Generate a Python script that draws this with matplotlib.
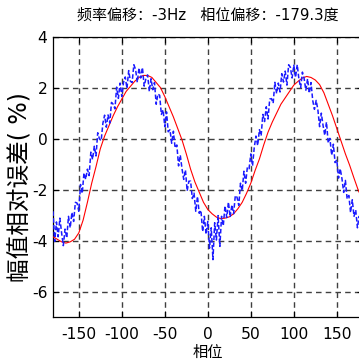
import matplotlib
matplotlib.use("Agg")
import matplotlib.pyplot as plt

plt.rcParams['font.family'] = ['DejaVu Sans', 'Noto Sans CJK SC']
plt.rcParams['axes.unicode_minus'] = False

# Phase axis (degrees) for the measured series, 2-degree steps
phase_meas = list(range(-180, 181, 2))
# Measured amplitude relative error (%)
err_meas = [
    -2.85, -4.03, -3.27, -3.85, -3.12, -3.7, -4.2, -3.55, -3.9, -3.05,
    -3.5, -2.9, -3.25, -2.5, -2.53, -2.85, -1.8, -2.15, -1.35, -1.6,
    -1.2, -1.45, -0.53, -0.82, -0.3, -0.68, 0.23, -0.01, -0.08, 0.6,
    0.92, 0.45, 0.93, 0.61, 1.42, 1.35, 1.17, 2.02, 1.58, 2.18,
    1.65, 2.21, 2.42, 1.97, 2.67, 2.25, 2.2, 2.9, 2.72, 2.21,
    2.78, 2.38, 2.79, 2.06, 2.35, 2.5, 1.85, 2.35, 1.92, 2.2,
    1.35, 1.75, 1.7, 0.95, 1.13, 0.47, 1.05, 0.27, 0.35, -0.18,
    0.29, -0.37, -0.25, -1.07, -0.65, -1.18, -1.6, -1.23, -2.05, -1.67,
    -1.67, -2.35, -2.14, -2.85, -2.27, -2.93, -2.81, -3.65, -3.05, -3.75,
    -3.25, -4.3, -3.5, -4.75, -3.3, -3.98, -3.02, -4.23, -3.05, -3.42,
    -2.64, -3.1, -2.49, -3.08, -2.6, -2.95, -2.23, -2.3, -2.62, -1.75,
    -2.05, -1.28, -1.75, -1.12, -1.18, -0.6, -1.07, -0.35, 0.1, -0.27,
    0.35, 0.11, 0.95, 0.67, 1.25, 0.77, 1.55, 1.57, 1.39, 2.21,
    1.77, 2.18, 1.83, 2.55, 2.22, 2.65, 2.1, 2.9, 2.8, 2.38,
    2.88, 2.4, 2.9, 2.32, 2.0, 2.61, 2.36, 1.9, 2.35, 1.78,
    2.2, 1.5, 1.15, 1.5, 1.13, 0.47, 1.0, 0.52, 0.13, 0.65,
    -0.17, 0.01, -0.65, -0.22, -0.94, -0.83, -1.55, -1.18, -1.57, -2.11,
    -1.64, -2.36, -2.23, -2.9, -2.4, -3.05, -2.8, -3.5, -3.05, -3.3,
    -2.4,
]

# Phase axis (degrees) for the model curve, 5-degree steps
phase_model = list(range(-180, 181, 5))
# Model amplitude relative error (%)
err_model = [
    -3.85, -3.95, -4.05, -4.1, -4.05, -3.95, -3.7, -3.2, -2.5, -1.75,
    -1.1, -0.4, 0.1, 0.5, 0.9, 1.25, 1.55, 1.85, 2.05, 2.25,
    2.4, 2.48, 2.48, 2.4, 2.2, 2.0, 1.65, 1.25, 0.85, 0.4,
    -0.05, -0.6, -1.2, -1.7, -2.1, -2.5, -2.78, -2.95, -3.08, -3.14,
    -3.12, -3.07, -2.95, -2.75, -2.5, -2.15, -1.75, -1.25, -0.8, -0.25,
    0.25, 0.65, 1.0, 1.35, 1.6, 1.85, 2.1, 2.25, 2.38, 2.44,
    2.4, 2.3, 2.12, 1.8, 1.35, 0.9, 0.4, -0.1, -0.6, -1.05,
    -1.55, -2.03, -2.4,
]

x_ticks = [-150, -100, -50, 0, 50, 100, 150]
y_ticks = [-6, -4, -2, 0, 2, 4]

title_text = "频率偏移：-3Hz   相位偏移：-179.3度"
x_label = "相位"
y_label = "幅值相对误差( %)"

fig = plt.figure(figsize=(3.59, 3.62), dpi=100)
ax = fig.add_axes([53 / 359, 1 - 317 / 362, 309.6 / 359, (317 - 36.7) / 362])

ax.plot(phase_model, err_model, color='red', lw=0.8, zorder=3)
ax.plot(phase_meas, err_meas, color='#1a1aff', lw=1.1, ls=(0, (3, 1.5)), zorder=4)

ax.set_xlim(-180, 180)
ax.set_ylim(-7, 4)
ax.set_xticks(x_ticks)
ax.set_yticks(y_ticks)
ax.tick_params(direction='in', length=4, width=0.8, labelsize=11.2,
               top=True, right=True)
ax.tick_params(axis='x', pad=7)
ax.tick_params(axis='y', pad=4)
for s in ax.spines.values():
    s.set_linewidth(0.9)
ax.grid(True, color='#404040', lw=1.0, ls=(0, (4, 3)))
ax.set_axisbelow(True)

ax.set_title(title_text, fontsize=10.8, pad=12)
ax.set_xlabel(x_label, fontsize=11, labelpad=2)
fig.text(21 / 359, 1 - 187 / 362, y_label, rotation=90, fontsize=17,
         ha='center', va='center')

fig.savefig("out.png", dpi=100)
